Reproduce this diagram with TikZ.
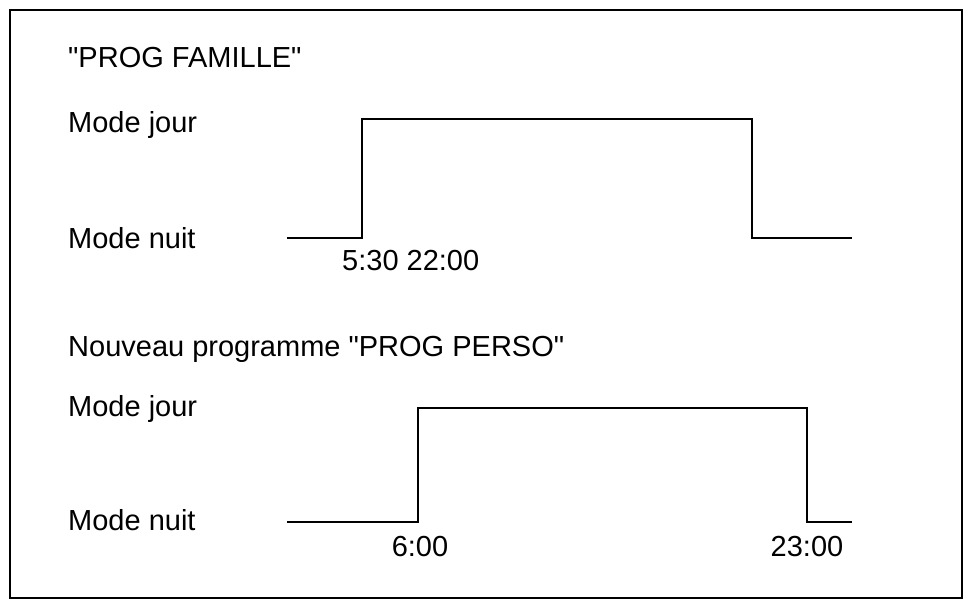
\documentclass[tikz,border=0pt]{standalone}
\usepackage{fontspec}
\setmainfont{Liberation Sans}
\usetikzlibrary{positioning}
\begin{document}
\begin{tikzpicture}[x=1pt,y=-1pt,
        lbl/.style={anchor=west, inner sep=0pt, font=\fontsize{29}{34}\selectfont},
        tick/.style={anchor=north, inner sep=0pt, font=\fontsize{29}{34}\selectfont},
        signal/.style={line width=1.6pt}
    ]
    \useasboundingbox (0,0) rectangle (970,606);
    \draw[line width=1.6pt] (10,10) rectangle (962,598);

    % first programme
    \node[lbl] (title1) at (68,58)  {\textquotedbl PROG FAMILLE\textquotedbl};
    \node[lbl] (jour1)  at (68,125) {Mode jour};
    \node[lbl] (nuit1)  at (68,238) {Mode nuit};
    \coordinate (a0) at (287,238);
    \coordinate (a1) at (362,238);
    \coordinate (a2) at (362,119);
    \coordinate (a3) at (752,119);
    \coordinate (a4) at (752,238);
    \coordinate (a5) at (852,238);
    \draw[signal] (a0) -- (a1) -- (a2) -- (a3) -- (a4) -- (a5);
    \node[tick, anchor=north west] (t1) at (342,250) {5:30 22:00};

    % second programme
    \node[lbl] (title2) at (68,349) {Nouveau programme \textquotedbl PROG PERSO\textquotedbl};
    \node[lbl] (jour2)  at (68,409) {Mode jour};
    \node[lbl] (nuit2)  at (68,520) {Mode nuit};
    \coordinate (b0) at (287,522);
    \coordinate (b1) at (418,522);
    \coordinate (b2) at (418,408);
    \coordinate (b3) at (807,408);
    \coordinate (b4) at (807,522);
    \coordinate (b5) at (852,522);
    \draw[signal] (b0) -- (b1) -- (b2) -- (b3) -- (b4) -- (b5);
    \node[tick] (t2) at (420,536) {6:00};
    \node[tick] (t3) at (807,536) {23:00};
\end{tikzpicture}
\end{document}
